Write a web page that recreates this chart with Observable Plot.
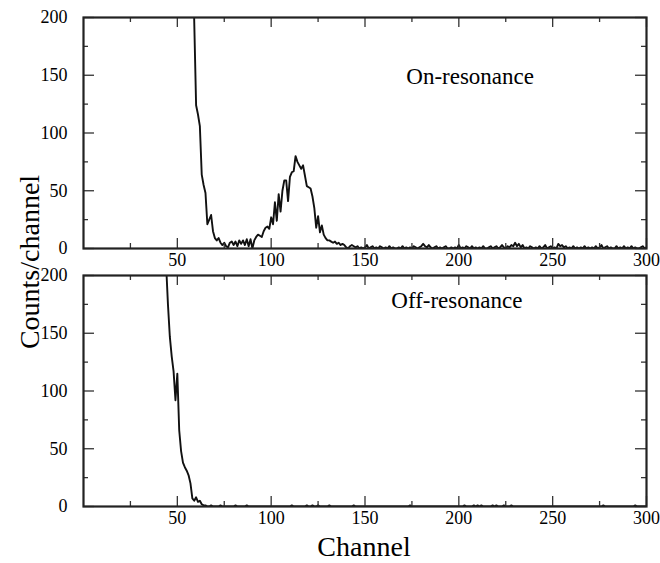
<!DOCTYPE html>
<html>
<head>
<meta charset="utf-8">
<script src="https://cdn.jsdelivr.net/npm/d3@7"></script>
<script src="https://cdn.jsdelivr.net/npm/@observablehq/plot@0.6"></script>
<style>
  html, body { margin: 0; padding: 0; background: #fff; }
  #wrap { position: relative; width: 660px; height: 563px; font-family: "Liberation Serif", "Times New Roman", serif; }
  #top, #bottom { position: absolute; left: 0; }
  #top { top: 0; }
  #bottom { top: 263px; }
  svg text { font-family: "Liberation Serif", "Times New Roman", serif !important; }
  .title { position: absolute; font-size: 28px; color: #000; white-space: nowrap; }
  #ytitle { left: 30px; top: 262px; transform: translate(-50%, -50%) rotate(-90deg); }
  #xtitle { left: 364px; top: 547px; transform: translate(-50%, -50%); }
</style>
</head>
<body>
<div id="wrap">
  <div id="top"></div>
  <div id="bottom"></div>
  <div class="title" id="ytitle">Counts/channel</div>
  <div class="title" id="xtitle">Channel</div>
</div>
<script>
// ---- data ----
const onStart = 50;
const onCounts = [
  900, 800, 700, 600, 520, 450, 390, 340, 290, 197,
  124, 116, 106, 64, 55, 48, 21, 25, 29, 15,
  9, 7, 9, 5, 3, 5, 2, 1, 5, 6,
  3, 6, 2, 7, 4, 7, 3, 8, 2, 8,
  0, 7, 10, 12, 11, 10, 15, 18, 19, 17,
  27, 21, 40, 24, 47, 32, 50, 59, 59, 41,
  62, 66, 67, 80, 75, 72, 69, 72, 63, 54,
  53, 52, 45, 35, 18, 28, 14, 20, 12, 9,
  7, 7, 6, 5, 6, 4, 5, 3, 4, 3,
  1, 0, 2, 3, 2, 1, 2, 0, 1, 0,
  1, 3, 0, 1, 2, 0, 1, 0, 2, 1,
  0, 1, 0, 2, 0, 1, 0, 0, 1, 0,
  2, 0, 1, 0, 1, 0, 2, 1, 0, 1,
  2, 4, 2, 1, 3, 1, 0, 1, 2, 0,
  1, 0, 1, 2, 0, 0, 1, 0, 1, 0,
  3, 0, 1, 0, 2, 1, 0, 2, 0, 1,
  0, 1, 0, 2, 0, 0, 1, 2, 0, 1,
  2, 0, 1, 3, 1, 0, 2, 1, 3, 2,
  5, 2, 4, 1, 3, 0, 1, 0, 2, 1,
  0, 1, 0, 2, 0, 1, 3, 0, 1, 2,
  0, 1, 0, 4, 2, 3, 1, 2, 0, 1,
  0, 2, 0, 1, 0, 1, 0, 2, 0, 1,
  0, 1, 0, 2, 0, 1, 3, 0, 1, 2,
  0, 1, 0, 0, 2, 0, 1, 0, 2, 0,
  1, 0, 2, 0, 1, 0, 0, 1, 2, 0,
  1
];
const offStart = 40;
const offCounts = [
  500, 400, 330, 270, 210, 175, 147, 130, 117, 92,
  115, 66, 48, 38, 34, 31, 27, 20, 7, 5,
  8, 4, 5, 2, 1, 1, 0, 0, 1, 0,
  0, 0, 0, 1, 0, 0, 0, 0, 0, 0,
  0, 1, 0, 0, 0, 0, 0, 1, 0, 0,
  0, 0, 0, 0, 0, 0, 0, 0, 0, 0,
  0, 0, 0, 0, 0, 0, 0, 0, 0, 0,
  0, 1, 0, 0, 0, 0, 0, 0, 0, 1,
  0, 0, 1, 0, 0, 1, 0, 0, 0, 0,
  0, 1, 0, 0, 0, 0, 0, 0, 0, 0,
  0, 0, 0, 0, 1, 0, 0, 0, 0, 0,
  0, 0, 0, 0, 0, 0, 0, 0, 0, 0,
  0, 0, 0, 0, 0, 0, 0, 0, 0, 0,
  0, 0, 0, 0, 1, 0, 0, 0, 0, 0,
  0, 0, 0, 0, 0, 0, 0, 0, 0, 0,
  0, 0, 0, 0, 0, 0, 0, 0, 0, 0,
  0, 0, 0, 1, 0, 0, 0, 0, 1, 0,
  1, 0, 1, 0, 0, 0, 0, 0, 1, 0,
  1, 0, 0, 0, 1, 0, 0, 0, 1, 0,
  0, 0, 0, 0, 0, 0, 0, 0, 0, 0,
  0, 0, 0, 0, 0, 0, 0, 0, 0, 0,
  0, 0, 0, 0, 0, 0, 0, 0, 0, 0,
  0, 0, 0, 0, 0, 0, 0, 0, 0, 0,
  0, 0, 0, 0, 0, 0, 0, 1, 0, 0,
  0, 0, 0, 0, 0, 0, 0, 0, 0, 0,
  0, 0, 0, 0, 1, 0, 0, 0, 0, 0,
  0
];
const xMajor = [50, 100, 150, 200, 250, 300];
const xMinor = [25, 75, 125, 175, 225, 275];
const yMajor = [0, 50, 100, 150, 200];
const yMinor = [25, 75, 125, 175];
const panelLabels = [
  {text: "On-resonance", x: 172, y: 149},
  {text: "Off-resonance", x: 164, y: 178}
];

// ---- drawing ----
const W = 660, ML = 83, MR = 14, PH = 231;
const PW = W - ML - MR;
const font = "'Liberation Serif', 'Times New Roman', serif";

function panel(start, counts, label, mt, mb) {
  const data = counts.map((v, i) => ({ch: start + i, v}));
  const tickStroke = "#333";
  return Plot.plot({
    width: W, height: mt + PH + mb,
    marginLeft: ML, marginRight: MR, marginTop: mt, marginBottom: mb,
    x: {domain: [0, 300]},
    y: {domain: [0, 200]},
    style: {fontFamily: font, fontSize: "18px", color: "#000", background: "transparent", overflow: "visible"},
    marks: [
      Plot.line(data, {x: "ch", y: "v", stroke: "#111", strokeWidth: 1.9, clip: true}),
      Plot.tickX(xMajor, {x: d => d, insetTop: PH - 10, stroke: tickStroke, strokeWidth: 1.3}),
      Plot.tickX(xMinor, {x: d => d, insetTop: PH - 5, stroke: tickStroke, strokeWidth: 1.3}),
      Plot.tickX(xMajor, {x: d => d, insetBottom: PH - 10, stroke: tickStroke, strokeWidth: 1.3}),
      Plot.tickX(xMinor, {x: d => d, insetBottom: PH - 5, stroke: tickStroke, strokeWidth: 1.3}),
      Plot.tickY(yMajor, {y: d => d, insetRight: PW - 11, stroke: tickStroke, strokeWidth: 1.3}),
      Plot.tickY(yMinor, {y: d => d, insetRight: PW - 5, stroke: tickStroke, strokeWidth: 1.3}),
      Plot.tickY(yMajor, {y: d => d, insetLeft: PW - 11, stroke: tickStroke, strokeWidth: 1.3}),
      Plot.tickY(yMinor, {y: d => d, insetLeft: PW - 5, stroke: tickStroke, strokeWidth: 1.3}),
      Plot.frame({stroke: "#222", strokeWidth: 2.2}),
      Plot.axisX({ticks: xMajor, tickSize: 0, tickPadding: 5, label: null, fontSize: 18, fontFamily: font, fill: "#000"}),
      Plot.axisY({ticks: yMajor, tickSize: 0, tickPadding: 16, label: null, fontSize: 18, fontFamily: font, fill: "#000"}),
      Plot.text([label], {x: "x", y: "y", text: "text", textAnchor: "start", fontSize: 23, fontFamily: font, fill: "#000"})
    ]
  });
}

document.getElementById("top").append(panel(onStart, onCounts, panelLabels[0], 17, 27));
document.getElementById("bottom").append(panel(offStart, offCounts, panelLabels[1], 12, 57));
</script>
</body>
</html>
